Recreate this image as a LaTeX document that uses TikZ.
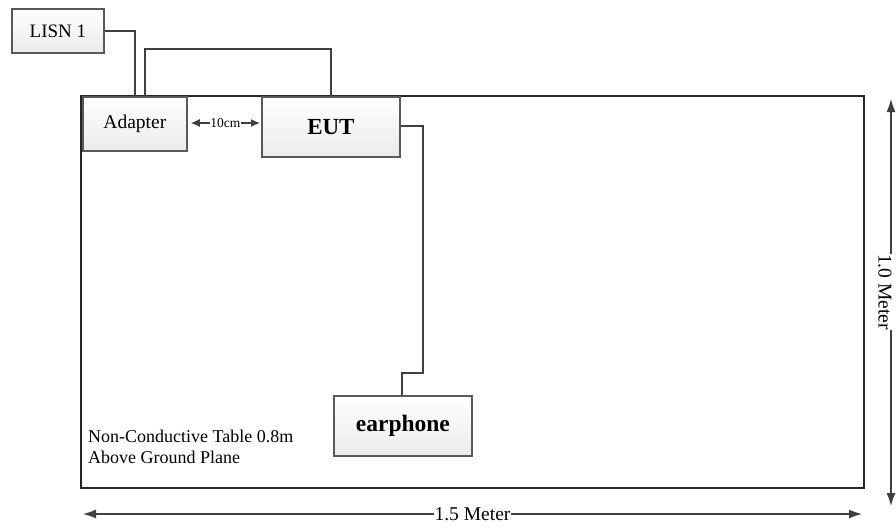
\documentclass[tikz,border=0pt]{standalone}
\usepackage{fontspec}
\setmainfont{Liberation Serif}
\usetikzlibrary{arrows.meta,shadows}
\begin{document}
\begin{tikzpicture}[x=1pt,y=-1pt,
  box/.style={draw=black!65,line width=1.8pt,top color=white,bottom color=black!8,
    drop shadow={shadow xshift=1.5pt,shadow yshift=-1.5pt,fill=black!25}},
  wire/.style={draw=black!75,line width=1.6pt},
  dim/.style={draw=black!75,line width=1.2pt,{Latex[length=13pt,width=9pt]}-{Latex[length=13pt,width=9pt]}},
  lbl/.style={fill=white,inner sep=1pt}]
\useasboundingbox (0,0) rectangle (896,528);
\node[draw=black!85,line width=2pt,minimum width=783pt,minimum height=392pt,inner sep=0pt,anchor=north west] (table) at (80,95) {};
\node[box,minimum width=92pt,minimum height=44pt,anchor=north west,inner sep=0pt,font=\fontsize{19}{22}\selectfont] (lisn) at (11,8) {LISN 1};
\node[box,minimum width=104pt,minimum height=54pt,anchor=north west,inner sep=0pt,font=\fontsize{19.5}{22}\selectfont] (adapter) at (82,96) {Adapter};
\node[box,minimum width=138pt,minimum height=60pt,anchor=north west,inner sep=0pt,font=\bfseries\fontsize{23}{26}\selectfont] (eut) at (261,96) {EUT};
\node[box,minimum width=138pt,minimum height=60pt,anchor=north west,inner sep=0pt,font=\bfseries\fontsize{23.5}{26}\selectfont] (ear) at (333,395) {earphone};
\node[anchor=north west,align=left,inner sep=0pt,font=\fontsize{18}{20.5}\selectfont] (note) at (88,430) {Non-Conductive Table 0.8m\\Above Ground Plane};
\coordinate (l1) at (135,31);
\coordinate (c1) at (145,49);
\coordinate (c2) at (331,49);
\coordinate (e1) at (423,126);
\coordinate (e2) at (423,373);
\coordinate (e3) at (402,373);
\path[wire] (lisn.east |- l1) -- (l1) -- (l1 |- adapter.north);
\path[wire] (c1 |- adapter.north) -- (c1) -- (c2) -- (c2 |- eut.north);
\path[wire] (eut.east |- e1) -- (e1) -- (e2) -- (e3) -- (e3 |- ear.north);
\draw[draw=black!75,line width=1.2pt,{Latex[length=9pt,width=8pt]}-{Latex[length=9pt,width=8pt]}] ([xshift=3pt]adapter.east |- 0,123) -- node[fill=white,inner sep=0.5pt,font=\fontsize{13.5}{14}\selectfont] (d10) {10cm} ([xshift=-1pt]eut.west |- 0,123);
\coordinate (b1) at (83,514);
\coordinate (b2) at (862,514);
\draw[dim] (b1) -- node[lbl,font=\fontsize{19.5}{22}\selectfont] (m15) {1.5 Meter} (b2);
\coordinate (r1) at (891,99);
\coordinate (r2) at (891,506);
\draw[dim] (r1) -- (r2);
\node[fill=white,inner sep=0.5pt,rotate=-90,font=\fontsize{19.5}{22}\selectfont] (m10) at (885,292) {1.0 Meter};
\end{tikzpicture}
\end{document}
